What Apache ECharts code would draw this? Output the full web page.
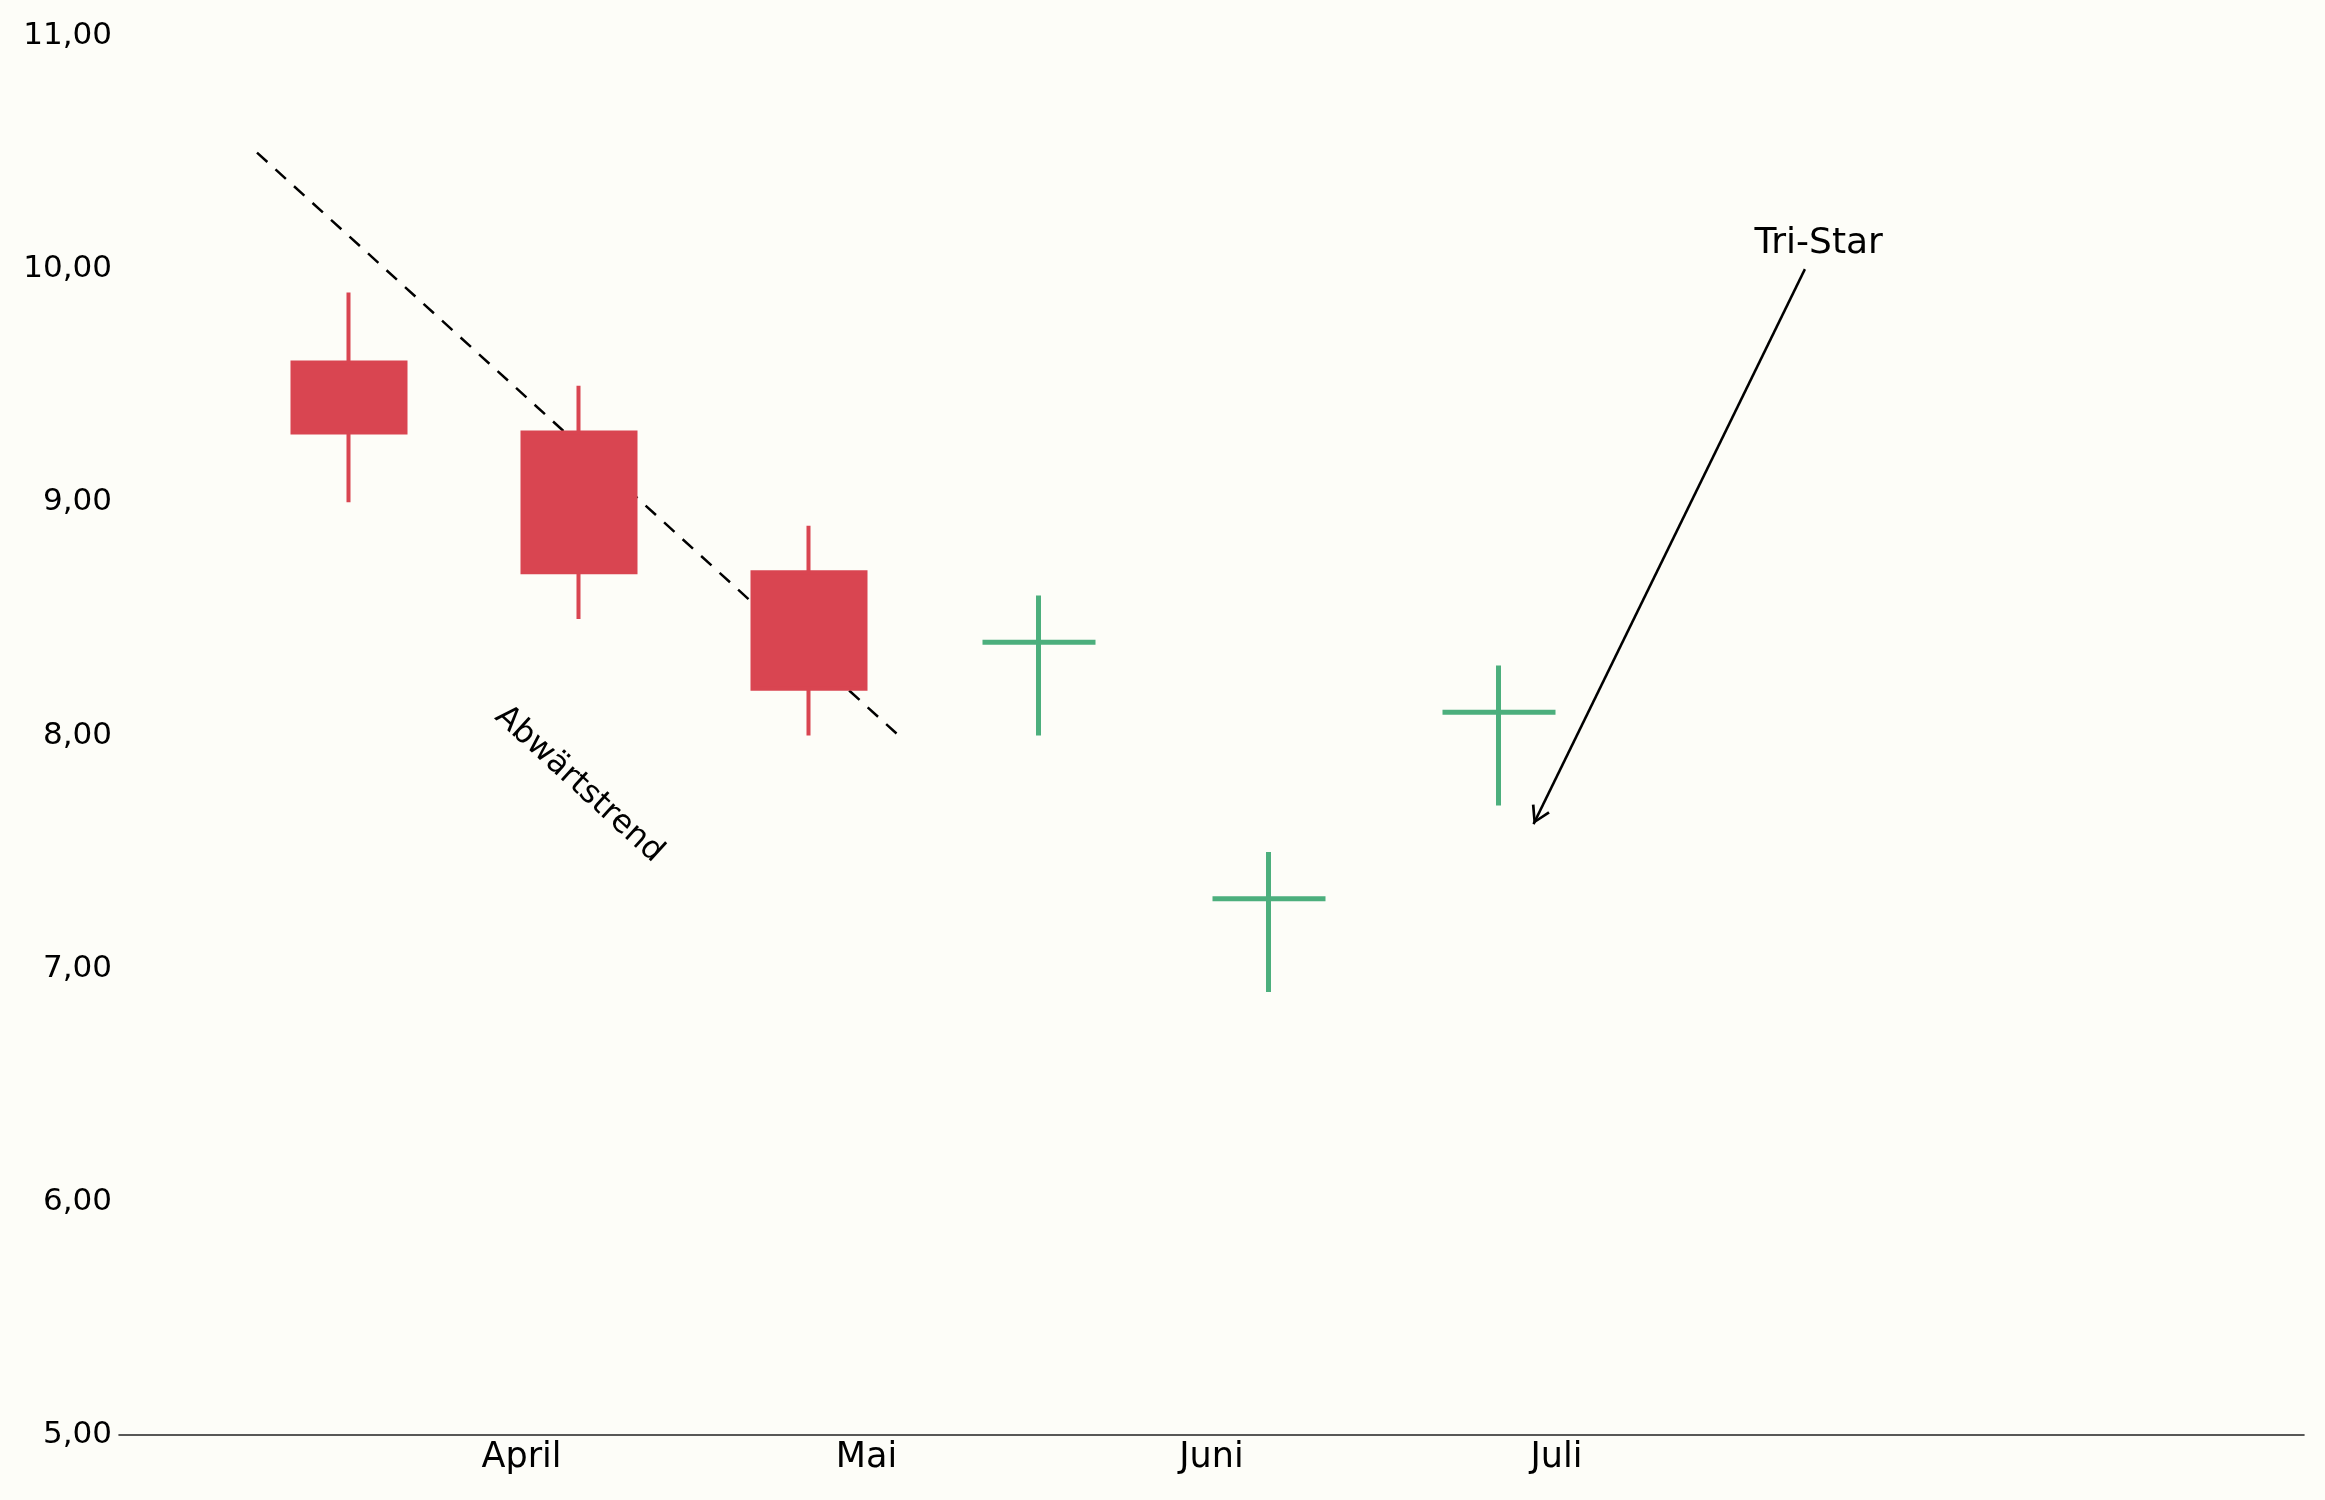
<!DOCTYPE html>
<html>
<head>
<meta charset="utf-8">
<script src="https://cdn.jsdelivr.net/npm/echarts@6/dist/echarts.min.js"></script>
<style>
html, body { margin: 0; padding: 0; background: #fdfdf8; }
#main { width: 2325px; height: 1500px; }
</style>
</head>
<body>
<div id="main"></div>
<script>
// candle positions (x index) and OHLC values
var candleX = [0, 1, 2, 3, 4, 5];
var opens = [9.6, 9.3, 8.7, 8.4, 7.3, 8.1];
var closes = [9.3, 8.7, 8.2, 8.4, 7.3, 8.1];
var lows = [9.0, 8.5, 8.0, 8.0, 6.9, 7.7];
var highs = [9.9, 9.5, 8.9, 8.6, 7.5, 8.3];

// month labels on the x axis
var monthPos = [0.75, 2.25, 3.75, 5.25];
var monthNames = ['April', 'Mai', 'Juni', 'Juli'];

// y ticks
var yMin = 5, yMax = 11, yStep = 1;

// annotations
var trendX = [-0.4, 2.39];
var trendY = [10.5, 8.0];
var trendText = 'Abwärtstrend';
var trendTextPos = [1.0, 7.79];
var starText = 'Tri-Star';
var starTextPos = [6.39, 10.11];
var arrowFrom = [6.33, 10.0];
var arrowTo = [5.15, 7.62];

var red = '#d94551';
var green = '#4caf7d';

var candleData = candleX.map(function (x, i) {
    var item = { value: [x, opens[i], closes[i], lows[i], highs[i]] };
    if (opens[i] === closes[i]) {
        // doji: a bit thicker cross bar
        item.itemStyle = { borderWidth: 5 };
    }
    return item;
});
var trendData = trendX.map(function (x, i) {
    return [x, trendY[i]];
});

var myChart = echarts.init(document.getElementById('main'));
var option = {
    backgroundColor: '#fdfdf8',
    animation: false,
    textStyle: {
        fontFamily: 'DejaVu Sans'
    },
    grid: {
        left: 119,
        right: 21,
        top: 36,
        bottom: 65,
        containLabel: false,
        outerBoundsMode: 'none'
    },
    xAxis: {
        type: 'value',
        min: -1,
        max: 8.5,
        axisLine: {
            show: true,
            onZero: false,
            lineStyle: {
                color: '#222',
                width: 1.6
            }
        },
        axisTick: {
            show: false
        },
        splitLine: {
            show: false
        },
        axisLabel: {
            customValues: monthPos,
            margin: 5,
            fontSize: 35,
            color: '#000',
            fontFamily: 'DejaVu Sans',
            formatter: function (v) {
                var i = monthPos.indexOf(v);
                return i >= 0 ? monthNames[i] : '';
            }
        }
    },
    yAxis: {
        type: 'value',
        min: yMin,
        max: yMax,
        interval: yStep,
        axisLine: {
            show: false
        },
        axisTick: {
            show: false
        },
        splitLine: {
            show: false
        },
        axisLabel: {
            margin: 7,
            fontSize: 31,
            color: '#000',
            fontFamily: 'DejaVu Sans',
            formatter: function (v) {
                return v.toFixed(2).replace('.', ',');
            }
        }
    },
    series: [
        {
            type: 'candlestick',
            z: 5,
            barWidth: 113,
            silent: true,
            itemStyle: {
                color: green,
                color0: red,
                borderColor: green,
                borderColor0: red,
                borderColorDoji: green,
                borderWidth: 4
            },
            data: candleData
        },
        {
            type: 'line',
            z: 2,
            silent: true,
            showSymbol: false,
            symbol: 'none',
            lineStyle: {
                color: '#000',
                width: 2.5,
                type: [14, 11]
            },
            data: trendData,
            markLine: {
                silent: true,
                symbol: ['none', 'path://M10,0 L20,17 L17.6,18.4 L10,5 L2.4,18.4 L0,17 Z'],
                symbolSize: [20, 18],
                symbolOffset: [[0, 0], [0, 9]],
                label: {
                    show: false
                },
                lineStyle: {
                    color: '#000',
                    width: 2.5,
                    type: 'solid'
                },
                data: [
                    [
                        { coord: arrowFrom },
                        { coord: arrowTo }
                    ]
                ]
            }
        },
        {
            type: 'scatter',
            z: 6,
            silent: true,
            symbolSize: 0,
            itemStyle: {
                opacity: 1
            },
            label: {
                show: true,
                position: 'inside',
                color: '#000',
                opacity: 1,
                textBorderWidth: 0,
                fontFamily: 'DejaVu Sans',
                formatter: function (p) {
                    return p.data.text;
                }
            },
            data: [
                {
                    value: trendTextPos,
                    text: trendText,
                    label: { fontSize: 32, rotate: -42.4, color: '#000' }
                },
                {
                    value: starTextPos,
                    text: starText,
                    label: { fontSize: 36, color: '#000' }
                }
            ]
        }
    ]
};
myChart.setOption(option);
</script>
</body>
</html>
